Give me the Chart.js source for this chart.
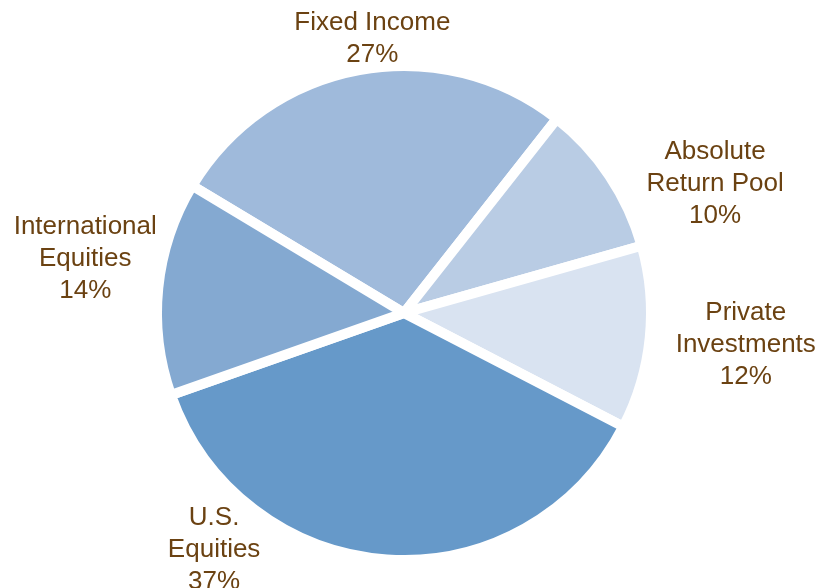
<!DOCTYPE html>
<html>
<head>
<meta charset="utf-8">
<script src="https://cdn.jsdelivr.net/npm/chart.js@4/dist/chart.umd.min.js"></script>
<style>
  html, body { margin: 0; padding: 0; background: #ffffff; }
  #wrap { width: 827px; height: 588px; position: relative; }
</style>
</head>
<body>
<div id="wrap"><canvas id="c" width="827" height="588"></canvas></div>
<script>
// ---- data ----
const categories = ["Fixed Income", "Absolute Return Pool", "Private Investments", "U.S. Equities", "International Equities"];
const labelLines = [["Fixed Income"], ["Absolute", "Return Pool"], ["Private", "Investments"], ["U.S.", "Equities"], ["International", "Equities"]];
const shares = [27, 10, 12, 37, 14];

// ---- styling / layout (kept separate from data) ----
const sliceColors = ["#9fbadb", "#b9cce4", "#d9e3f1", "#6699c9", "#84a9d1"];
const textColor = "#6b4212";
const labelOffsets = [[12, -36], [110, 5], [101, 7], [-173, -5], [-78, -30]];
const gap = 10;
const lineHeight = 32;

const labelPlugin = {
  id: 'outerLabels',
  afterDraw(chart) {
    const ctx = chart.ctx;
    const meta = chart.getDatasetMeta(0);
    ctx.save();
    ctx.fillStyle = textColor;
    ctx.font = '26px "Liberation Sans", Arial, sans-serif';
    ctx.textAlign = 'center';
    ctx.textBaseline = 'middle';
    meta.data.forEach((arc, i) => {
      const p = arc.getProps(['x', 'y', 'startAngle', 'endAngle', 'outerRadius'], true);
      const mid = (p.startAngle + p.endAngle) / 2;
      const R = p.outerRadius - gap / 2;
      const ax = p.x + Math.cos(mid) * R + labelOffsets[i][0];
      const ay = p.y + Math.sin(mid) * R + labelOffsets[i][1];
      const lines = labelLines[i].concat([shares[i] + "%"]);
      const top = ay - (lines.length - 1) * lineHeight / 2;
      lines.forEach((t, k) => ctx.fillText(t, ax, top + k * lineHeight));
    });
    ctx.restore();
  }
};

new Chart(document.getElementById('c'), {
  type: 'pie',
  data: {
    labels: categories,
    datasets: [{
      data: shares,
      backgroundColor: sliceColors,
      borderColor: '#ffffff',
      borderWidth: gap,
      borderJoinStyle: 'bevel',
      hoverOffset: 0
    }]
  },
  options: {
    responsive: false,
    animation: false,
    rotation: -59,
    layout: { padding: { left: 152, right: 171, top: 61, bottom: 23 } },
    plugins: { legend: { display: false }, tooltip: { enabled: false } },
    events: []
  },
  plugins: [labelPlugin]
});
</script>
</body>
</html>
